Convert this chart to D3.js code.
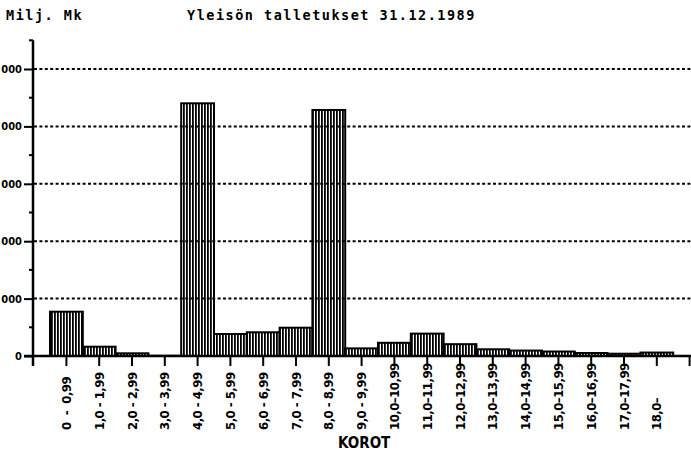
<!DOCTYPE html>
<html>
<head>
<meta charset="utf-8">
<script src="https://cdn.jsdelivr.net/npm/d3@7"></script>
<style>
  body { margin: 0; background: #fff; }
  svg { display: block; }
  .mono { font-family: "DejaVu Sans Mono", monospace; font-weight: bold; }
  .cond { font-family: "DejaVu Sans Condensed", "Liberation Sans Narrow", sans-serif; font-weight: bold; font-stretch: condensed; white-space: pre; }
</style>
</head>
<body>
<script>
// Yleisön talletukset 31.12.1989 - deposits by interest rate band

var categories = ["0  -  0,99", "1,0 - 1,99", "2,0 - 2,99", "3,0 - 3,99", "4,0 - 4,99",
                  "5,0 - 5,99", "6,0 - 6,99", "7,0 - 7,99", "8,0 - 8,99", "9,0 - 9,99",
                  "10,0\u201310,99", "11,0\u201311,99", "12,0\u201312,99", "13,0\u201313,99",
                  "14,0\u201314,99", "15,0\u201315,99", "16,0\u201316,99", "17,0\u201317,99", "18,0\u2013"];
var values = [7720, 1620, 470, 40, 44020,
              3830, 4130, 4930, 42860, 1330,
              2300, 3900, 2060, 1170,
              950, 780, 520, 400, 600];
var yTicks = [0, 10000, 20000, 30000, 40000, 50000];
// only the visible part of the labels (scan is cut at the left edge)
var yTickLabels = ["0", "000", "000", "000", "000", "000"];

var w = 691,
    h = 452;

var svg = d3.select("body").append("svg")
    .attr("width", w)
    .attr("height", h);

// vertical hatching used for every bar
svg.append("defs").append("pattern")
    .attr("id", "hatch")
    .attr("patternUnits", "userSpaceOnUse")
    .attr("width", 3)
    .attr("height", 10)
  .append("rect")
    .attr("x", 0).attr("y", 0)
    .attr("width", 1.8).attr("height", 10)
    .attr("fill", "#000");

var y = d3.scaleLinear().domain([0, 50000]).range([356, 69]);

// 20 slots, the last one is empty (chart is cut at the right edge)
var x = d3.scaleBand().domain(d3.range(20)).range([50, 706]).padding(0);

// dotted grid lines
svg.selectAll("line.grid").data(yTicks.slice(1))
  .enter().append("line")
    .attr("class", "grid")
    .attr("x1", 34).attr("x2", w)
    .attr("y1", function(d){ return y(d); })
    .attr("y2", function(d){ return y(d); })
    .attr("stroke", "#000")
    .attr("stroke-width", 2)
    .attr("stroke-dasharray", "3,2.4");

// bars
svg.selectAll("rect.bar").data(values)
  .enter().append("rect")
    .attr("class", "bar")
    .attr("x", function(d, i){ return x(i); })
    .attr("y", function(d){ return y(d); })
    .attr("width", x.bandwidth())
    .attr("height", function(d){ return y(0) - y(d); })
    .attr("fill", "url(#hatch)")
    .attr("stroke", "#000")
    .attr("stroke-width", 2);

// y axis with major ticks, minor ticks every 5000
var yAxis = d3.axisLeft(y)
    .tickValues(yTicks)
    .tickSize(9)
    .tickPadding(2)
    .tickFormat(function(d, i){ return yTickLabels[i]; });

var gy = svg.append("g")
    .attr("transform", "translate(33,0)")
    .call(yAxis);
gy.select(".domain").remove();
gy.selectAll("line").attr("stroke-width", 2);
gy.selectAll("text").attr("class", "cond").attr("font-size", 11).attr("fill", "#000");

var minor = d3.range(5000, 60000, 10000);
svg.selectAll("line.minor").data(minor)
  .enter().append("line")
    .attr("class", "minor")
    .attr("x1", 29).attr("x2", 33)
    .attr("y1", function(d){ return y(d); })
    .attr("y2", function(d){ return y(d); })
    .attr("stroke", "#000")
    .attr("stroke-width", 2);

svg.append("line")
    .attr("x1", 33).attr("x2", 33)
    .attr("y1", y(55000)).attr("y2", 366)
    .attr("stroke", "#000").attr("stroke-width", 2.5);

// x axis
var xAxis = d3.axisBottom(x)
    .tickSize(10)
    .tickFormat(function(d){ return categories[d] || ""; });

var gx = svg.append("g")
    .attr("transform", "translate(0," + y(0) + ")")
    .call(xAxis);
gx.select(".domain").remove();
gx.selectAll("line").attr("stroke-width", 2);
gx.selectAll("text")
    .attr("class", "cond")
    .attr("font-size", 13)
    .attr("letter-spacing", -0.5)
    .attr("fill", "#000")
    .attr("text-anchor", "start")
    .attr("transform", "rotate(-90)")
    .attr("x", -74)
    .attr("y", 0)
    .attr("dy", "0.36em");

svg.append("line")
    .attr("x1", 24).attr("x2", w)
    .attr("y1", y(0)).attr("y2", y(0))
    .attr("stroke", "#000").attr("stroke-width", 2.5);

// titles
svg.append("text")
    .attr("class", "mono")
    .attr("x", 6).attr("y", 20)
    .attr("font-size", 13.5)
    .attr("letter-spacing", 1.5)
    .text("Milj. Mk");

svg.append("text")
    .attr("class", "mono")
    .attr("x", 187).attr("y", 20)
    .attr("font-size", 13.5)
    .attr("letter-spacing", 1.5)
    .text("Yleisön talletukset 31.12.1989");

svg.append("text")
    .attr("class", "cond")
    .attr("x", 338).attr("y", 448)
    .attr("font-size", 15)
    .text("KOROT");
</script>
</body>
</html>
